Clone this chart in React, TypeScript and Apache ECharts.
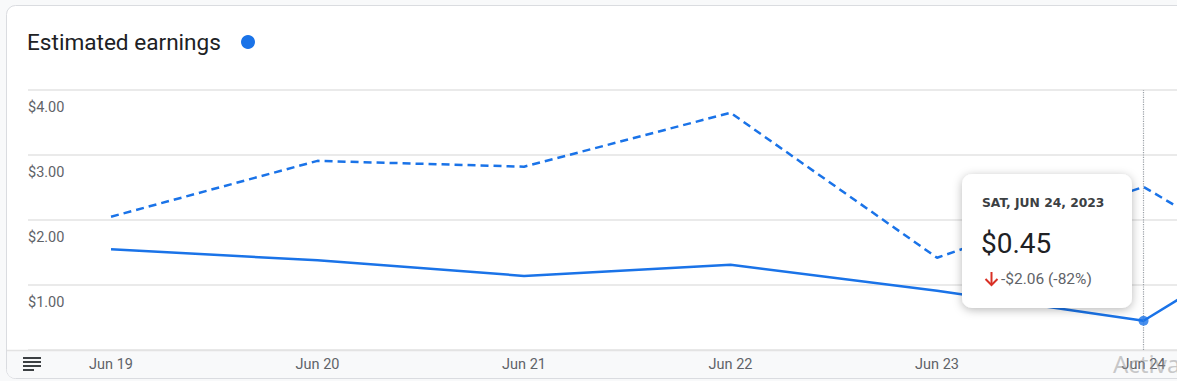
import React, { useEffect, useRef } from "react";
import * as echarts from "echarts";

const categories = ["Jun 19", "Jun 20", "Jun 21", "Jun 22", "Jun 23", "Jun 24", "Jun 25"];
const currentEarnings = [1.55, 1.38, 1.14, 1.31, 0.91, 0.45, 2.4];
const previousEarnings = [2.05, 2.91, 2.82, 3.65, 1.42, 2.51, 0.63];
const yTicks = [0, 1, 2, 3, 4];
const xLabelIndexes = [0, 1, 2, 3, 4, 5];
const selectedIndex = 5;
const tooltipDate = "SAT, JUN 24, 2023";
const tooltipValue = "$0.45";
const tooltipChange = "-$2.06 (-82%)";
const titleText = "Estimated earnings";

const BLUE = "#1a73e8";

export default function App() {
  const ref = useRef<HTMLDivElement>(null);
  useEffect(() => {
    if (!ref.current) return;
    const chart = echarts.init(ref.current, undefined, { renderer: "svg" });
    const font = "Roboto, 'Noto Sans', sans-serif";
    const option: any = {
      animation: false,
      backgroundColor: "#f8f9fa",
      textStyle: { fontFamily: font },
      grid: { left: 28, right: 0, top: 90, bottom: 31, containLabel: false },
      xAxis: {
        type: "value",
        min: -0.402,
        max: 5.162,
        axisLine: { show: false },
        axisTick: { show: false },
        splitLine: { show: false },
        axisLabel: {
          customValues: xLabelIndexes,
          formatter: (v: number) => categories[Math.round(v)] ?? "",
          color: "#5f6368",
          fontSize: 14.5,
          margin: 7,
          fontFamily: font,
        },
      },
      yAxis: {
        type: "value",
        min: yTicks[0],
        max: yTicks[yTicks.length - 1],
        interval: 1,
        axisLine: { show: false },
        axisTick: { show: false },
        splitLine: { lineStyle: { color: "#e3e3e3", width: 1.5 } },
        axisLabel: {
          inside: true,
          margin: 0,
          verticalAlign: "top",
          padding: [10, 0, 0, 0],
          color: "#5f6368",
          fontSize: 14.5,
          fontFamily: font,
          formatter: (v: number) => (v === 0 ? "" : "$" + v.toFixed(2)),
        },
        z: 1,
      },
      series: [
        {
          type: "line",
          name: "previous",
          data: previousEarnings.map((v, i) => [i, v]),
          showSymbol: false,
          symbol: "none",
          lineStyle: { color: BLUE, width: 2.5, type: [8, 5] },
          z: 3,
        },
        {
          type: "line",
          name: "current",
          data: currentEarnings.map((v, i) => [i, v]),
          showSymbol: false,
          symbol: "none",
          lineStyle: { color: BLUE, width: 2.5 },
          z: 4,
          markLine: {
            silent: true,
            symbol: ["none", "none"],
            label: { show: false },
            lineStyle: { type: "dotted", color: "#9aa0a6", width: 1.2 },
            data: [{ xAxis: selectedIndex }],
          },
        },
        {
          type: "scatter",
          data: [[selectedIndex, currentEarnings[selectedIndex]]],
          symbol: "circle",
          symbolSize: 10,
          itemStyle: { color: BLUE },
          z: 5,
        },
      ],
      graphic: [
        {
          type: "rect",
          z: -10,
          shape: { x: 6.5, y: 5.5, width: 1220, height: 373, r: 9 },
          style: { fill: "#ffffff", stroke: "#dadce0", lineWidth: 1 },
        },
        {
          type: "rect",
          z: -9,
          shape: { x: 7, y: 351, width: 1220, height: 27, r: [0, 0, 0, 8] },
          style: { fill: "#f8f9fa" },
        },
        {
          type: "line",
          z: -8,
          shape: { x1: 7, y1: 350.5, x2: 1177, y2: 350.5 },
          style: { stroke: "#e3e3e3", lineWidth: 1.5 },
        },
        // hamburger icon
        { type: "rect", z: 10, shape: { x: 23, y: 357, width: 18, height: 2 }, style: { fill: "#3c4043" } },
        { type: "rect", z: 10, shape: { x: 23, y: 361, width: 18, height: 2 }, style: { fill: "#3c4043" } },
        { type: "rect", z: 10, shape: { x: 23, y: 365, width: 18, height: 2 }, style: { fill: "#3c4043" } },
        { type: "rect", z: 10, shape: { x: 23, y: 369, width: 11, height: 2 }, style: { fill: "#3c4043" } },
        {
          type: "text",
          z: 10,
          x: 27,
          y: 42,
          style: {
            text: titleText,
            fontSize: 22.6,
            fontFamily: font,
            fill: "#202124",
            verticalAlign: "middle",
          },
        },
        {
          type: "circle",
          z: 10,
          shape: { cx: 248, cy: 42, r: 7 },
          style: { fill: BLUE },
        },
        {
          type: "group",
          z: 50,
          children: [
            {
              type: "rect",
              z: 50,
              shape: { x: 962, y: 174, width: 170, height: 134, r: 10 },
              style: {
                fill: "#ffffff",
                shadowBlur: 10,
                shadowColor: "rgba(0,0,0,0.28)",
                shadowOffsetY: 2,
              },
            },
            {
              type: "text",
              z: 51,
              x: 982,
              y: 203,
              style: {
                text: tooltipDate,
                fontSize: 12.3,
                fontWeight: "bold",
                fontFamily: "'DejaVu Sans', sans-serif",
                fill: "#3c4043",
                verticalAlign: "middle",
              },
            },
            {
              type: "text",
              z: 51,
              x: 981,
              y: 243,
              style: {
                text: tooltipValue,
                fontSize: 28,
                fontFamily: font,
                fill: "#202124",
                verticalAlign: "middle",
              },
            },
            // down arrow icon
            {
              type: "line",
              z: 51,
              shape: { x1: 991.5, y1: 272, x2: 991.5, y2: 285 },
              style: { stroke: "#d93025", lineWidth: 2 },
            },
            {
              type: "polyline",
              z: 51,
              shape: { points: [[985.5, 279], [991.5, 285], [997.5, 279]] },
              style: { stroke: "#d93025", lineWidth: 2, fill: "none" },
            },
            {
              type: "text",
              z: 51,
              x: 1001,
              y: 279,
              style: {
                text: tooltipChange,
                fontSize: 15.5,
                fontFamily: font,
                fill: "#5f6368",
                verticalAlign: "middle",
              },
            },
          ],
        },
        {
          type: "text",
          z: 60,
          x: 1113,
          y: 363,
          style: {
            text: "Activate Windows",
            fontSize: 24,
            fontFamily: "'Noto Sans', sans-serif",
            fill: "rgba(150,150,150,0.5)",
            verticalAlign: "middle",
          },
        },
      ],
    };
    chart.setOption(option);
    return () => chart.dispose();
  }, []);
  return (
    <div
      ref={ref}
      style={{ position: "fixed", left: 0, top: 0, width: 1177, height: 381 }}
    />
  );
}
